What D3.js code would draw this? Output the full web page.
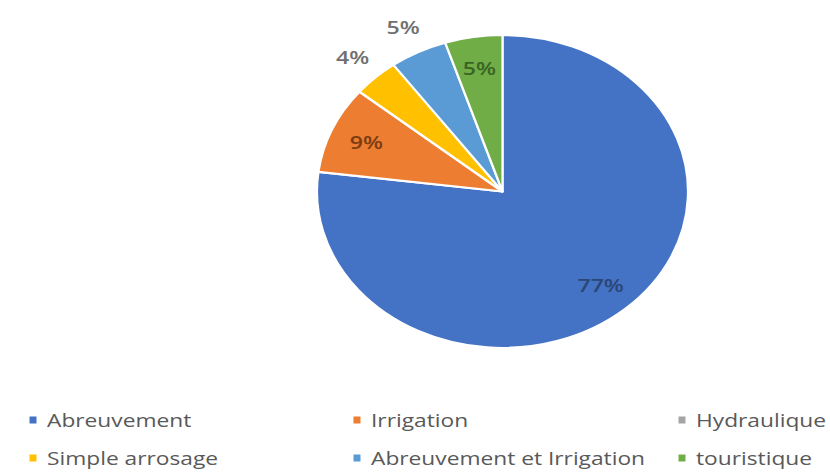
<!DOCTYPE html>
<html>
<head>
<meta charset="utf-8">
<script src="https://cdn.jsdelivr.net/npm/d3@7"></script>
<style>
  html, body { margin: 0; padding: 0; background: #ffffff; }
  svg { display: block; }
</style>
</head>
<body>
<svg id="chart" width="830" height="472"></svg>
<script>
// ---- data ----
const categories = ["Abreuvement", "Irrigation", "Hydraulique", "Simple arrosage", "Abreuvement et Irrigation", "touristique"];
const values = [77, 9, 0, 4, 5, 5];
const valueLabels = ["77%", "9%", "", "4%", "5%", "5%"];

// ---- styles ----
const colors = ["#4472C4", "#ED7D31", "#A5A5A5", "#FFC000", "#5B9BD5", "#70AD47"];
const labelColors = ["#2b4677", "#7a3d12", "#595959", "#707070", "#707070", "#3a6424"];
const labelPlacement = ["inside", "inside", "none", "outside", "outside", "inside"];

const W = 830, H = 472;
const cx = 502.5, cy = 191.5;
const r = 156.5;
const sx = 185.5 / 156.5;      // horizontal stretch of the picture
const labelSx = 1.25;
const legendSx = 1.3;

const svg = d3.select("#chart");
svg.append("rect").attr("width", W).attr("height", H).attr("fill", "#fff");

const pie = d3.pie().sort(null).value(d => d.value);
const data = categories.map((c, i) => ({ name: c, value: values[i], i }));
const arcs = pie(data);

const arc = d3.arc().innerRadius(0).outerRadius(r);
const g = svg.append("g").attr("transform", `translate(${cx},${cy}) scale(${sx},1)`);

g.selectAll("path")
  .data(arcs.filter(a => a.data.value > 0))
  .join("path")
  .attr("d", arc)
  .attr("fill", d => colors[d.data.i])
  .attr("stroke", "#ffffff")
  .attr("stroke-width", 2.2)
  .attr("vector-effect", "non-scaling-stroke")
  .attr("stroke-linejoin", "round");

const inArc = d3.arc().innerRadius(0.8 * r).outerRadius(0.8 * r);
const outArc = d3.arc().innerRadius(1.18 * r).outerRadius(1.18 * r);

const lab = svg.append("g");
arcs.forEach(a => {
  const p = labelPlacement[a.data.i];
  if (p === "none" || !valueLabels[a.data.i]) return;
  const c = (p === "inside" ? inArc : outArc).centroid(a);
  const x = cx + c[0] * sx, y = cy + c[1];
  lab.append("text")
    .attr("transform", `translate(${x},${y}) scale(${labelSx},1)`)
    .attr("text-anchor", "middle")
    .attr("dominant-baseline", "central")
    .attr("font-family", "'Open Sans', 'Noto Sans', sans-serif")
    .attr("font-size", 18.5)
    .attr("font-weight", 600)
    .attr("fill", labelColors[a.data.i])
    .text(valueLabels[a.data.i]);
});

// ---- legend ----
const legendCols = [33, 357, 682];
const legendRows = [420, 458];
const leg = svg.append("g");
categories.forEach((c, i) => {
  const x = legendCols[i % 3], y = legendRows[Math.floor(i / 3)];
  leg.append("rect")
    .attr("x", x - 3.5).attr("y", y - 3.5)
    .attr("width", 7).attr("height", 7)
    .attr("fill", colors[i]);
  leg.append("text")
    .attr("transform", `translate(${x + 14},${y}) scale(${legendSx},1)`)
    .attr("dominant-baseline", "central")
    .attr("font-family", "'Open Sans', 'Noto Sans', sans-serif")
    .attr("font-size", 17.5)
    .attr("fill", "#595959")
    .text(c);
});
</script>
</body>
</html>
